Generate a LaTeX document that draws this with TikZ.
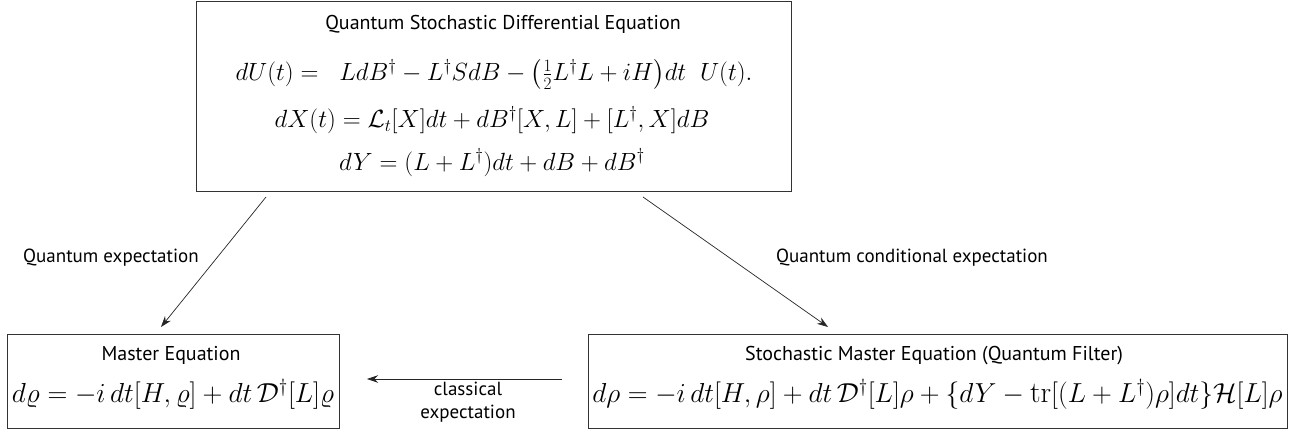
\documentclass[tikz,border=0pt]{standalone}
\usepackage{amsmath}
\usepackage{graphicx}
\usepackage{fontspec}
\setsansfont{PT Sans}
\usetikzlibrary{arrows.meta,calc}
\begin{document}
\begin{tikzpicture}[x=1pt,y=-1pt,
  box/.style={draw=black!80,line width=1.1pt,inner sep=0pt,anchor=north west},
  ttl/.style={font=\sffamily\fontsize{20}{22}\selectfont,inner sep=0pt,anchor=base},
  eqn/.style={font=\fontsize{27}{30}\selectfont,inner sep=0pt,anchor=base},
  lbl/.style={font=\sffamily\fontsize{19}{23}\selectfont,inner sep=0pt,align=center},
  arr/.style={-{Stealth[length=11pt,width=7.5pt]},line width=0.7pt,black!85}]
\useasboundingbox (0,0) rectangle (1295,433);
% boxes
\node[box,minimum width=595pt,minimum height=190pt] (top) at (196,1) {};
\node[box,minimum width=332pt,minimum height=94pt] (me) at (7,334) {};
\node[box,minimum width=699pt,minimum height=94pt] (sme) at (588,334) {};
% top texts
\node[ttl] (t1) at (503,30) {Quantum Stochastic Differential Equation};
\node[eqn] (e1) at (494,81) {$dU(t) = \;\; LdB^\dagger - L^\dagger S dB - \bigl(\tfrac12 L^\dagger L + iH\bigr)dt\;\; U(t).$};
\node[eqn] (e2) at (492,128) {$dX(t) = \mathcal{L}_t[X]dt + dB^\dagger[X,L] + [L^\dagger,X]dB$};
\node[eqn] (e3) at (492,170) {$dY = (L + L^\dagger)dt + dB + dB^\dagger$};
% lower texts
\node[ttl] (t2) at (171,360) {Master Equation};
\node[eqn] (e4) at (173,402) {\resizebox{322pt}{!}{$d\varrho = -i\,dt[H,\varrho] + dt\,\mathcal{D}^\dagger[L]\varrho$}};
\node[ttl] (t3) at (934,360) {Stochastic Master Equation (Quantum Filter)};
\node[eqn] (e5) at (937.5,402) {\resizebox{690pt}{!}{$d\rho = -i\,dt[H,\rho] + dt\,\mathcal{D}^\dagger[L]\rho + \{dY - \mathrm{tr}[(L+L^\dagger)\rho]dt\}\mathcal{H}[L]\rho$}};
% connectors
\coordinate (a1s) at (266,197);
\coordinate (a1e) at (161,327);
\coordinate (a2s) at (643,197);
\coordinate (a2e) at (828,327);
\coordinate (a3s) at (562,379);
\coordinate (a3e) at (367,379);
\draw[arr] (a1s) -- (a1e);
\draw[arr] (a2s) -- (a2e);
\draw[arr] (a3s) -- (a3e);
\node[lbl] (l1) at (111,258) {Quantum expectation};
\node[lbl] (l2) at (912,258) {Quantum conditional expectation};
\node[lbl] (l3) at (468,402) {classical\\expectation};
\end{tikzpicture}
\end{document}
